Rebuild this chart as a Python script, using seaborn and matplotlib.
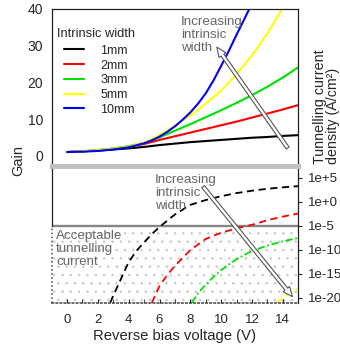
import numpy as np
import pandas as pd
import matplotlib
matplotlib.use('Agg')
import matplotlib.pyplot as plt
import seaborn as sns
from matplotlib.ticker import FixedLocator, NullLocator

# ---------------------------------------------
# datos
# ---------------------------------------------
widths = ['1mm', '2mm', '3mm', '5mm', '10mm']
colors = ['black', 'red', '#00e000', 'yellow', 'blue']

voltage = [0, 1, 2, 3, 4, 5, 6, 7, 8, 9, 10, 11, 12, 13, 14, 15]
gain_1mm = [1.0, 1.2, 1.4, 1.7, 2.0, 2.4, 2.9, 3.3, 3.7, 4.0, 4.3, 4.6, 4.9, 5.1, 5.4, 5.6]
gain_2mm = [1.0, 1.2, 1.5, 1.9, 2.4, 3.2, 4.3, 5.3, 6.3, 7.3, 8.3, 9.3, 10.4, 11.5, 12.6, 13.8]
gain_3mm = [1.0, 1.2, 1.5, 2.0, 2.6, 3.5, 5.0, 6.8, 8.6, 10.5, 12.4, 14.4, 16.5, 18.8, 21.3, 24.1]

# curvas mas empinadas: leidas cada 0.5 V
voltage_fine = [0, 1, 2, 3, 4, 5, 5.5, 6, 6.5, 7, 7.5, 8, 8.5, 9, 9.5, 10,
                10.5, 11, 11.5, 12, 12.5, 13, 13.5, 14]
gain_5mm = [1.0, 1.2, 1.5, 1.9, 2.5, 3.6, 4.5, 5.6, 6.8, 8.2, 9.6, 11.0, 12.5, 14.2,
            16.0, 17.8, 20.0, 22.3, 24.8, 27.4, 30.3, 33.4, 36.8, 40.5]
gain_10mm = [1.0, 1.1, 1.3, 1.7, 2.3, 3.4, 4.2, 5.2, 6.5, 8.0, 9.8, 11.8, 14.2, 17.0,
             20.5, 24.5, 28.6, 33.0, 37.2, 41.5]

# corriente tunel (exponente log10, A/cm2)
v_tun_1mm = [2.8, 3, 3.5, 4, 4.5, 5, 5.5, 6, 7, 8, 9, 10, 11, 12, 13, 14, 15]
log_tun_1mm = [-21, -19.5, -16, -12.5, -10.2, -8.4, -6.7, -5.2, -2.6, -0.6, 0.4, 1.2, 1.85, 2.35, 2.75, 3.05, 3.3]
v_tun_2mm = [5.5, 6, 6.5, 7, 8, 9, 10, 11, 12, 13, 14, 15]
log_tun_2mm = [-21, -17.5, -15.2, -13.3, -10.0, -7.7, -6.4, -5.5, -4.75, -3.8, -3.05, -2.4]
v_tun_3mm = [8.1, 8.5, 9, 9.5, 10, 11, 12, 13, 14, 15]
log_tun_3mm = [-21, -19, -17.2, -15.6, -14.2, -11.9, -10.2, -9.1, -8.2, -7.5]
v_tun_5mm = [13.6, 14, 14.5, 15]
log_tun_5mm = [-21, -20, -18.9, -18.0]

limit_tun = 1e-5
tun_ticks = [1e5, 1e0, 1e-5, 1e-10, 1e-15, 1e-20]
tun_labels = ['1e+5', '1e+0', '1e-5', '1e-10', '1e-15', '1e-20']

# ---------------------------------------------
# estilo
# ---------------------------------------------
sns.set_style('ticks')
plt.rcParams['font.family'] = ['Liberation Sans', 'DejaVu Sans']
plt.rcParams['hatch.color'] = '#cacaca'
plt.rcParams['hatch.linewidth'] = 0.6

fig = plt.figure(figsize=(3.4, 3.49), dpi=100)
ax_top = fig.add_axes([0.152, 0.5244, 0.725, 0.4499])
ax_bot = fig.add_axes([0.152, 0.1318, 0.725, 0.3926])

# ---------------------------------------------
# ganancia
# ---------------------------------------------
gains = [gain_1mm, gain_2mm, gain_3mm, gain_5mm, gain_10mm]
xs = [voltage, voltage, voltage, voltage_fine, voltage_fine]
gain_df = pd.concat([pd.DataFrame({'V': x[:len(g)], 'gain': g, 'width': w})
                     for w, x, g in zip(widths, xs, gains)])
sns.lineplot(data=gain_df, x='V', y='gain', hue='width', hue_order=widths,
             palette=dict(zip(widths, colors)), lw=1.5, ax=ax_top, legend=False)

ax_top.set_xlim(-1, 15)
ax_top.set_ylim(-2.8, 40)
ax_top.set_yticks([0, 10, 20, 30, 40])
ax_top.tick_params(axis='y', length=0, pad=6, labelsize=10)
ax_top.xaxis.set_major_locator(NullLocator())
ax_top.set_xlabel('')
ax_top.set_ylabel('')
for s in ['left', 'top', 'right']:
    ax_top.spines[s].set_color('#222222')
    ax_top.spines[s].set_linewidth(0.9)
ax_top.spines['bottom'].set_color('#c0c0c0')
ax_top.spines['bottom'].set_linewidth(3.5)

ax_top.legend(ax_top.lines[:5], widths, loc='upper left',
              bbox_to_anchor=(0.05, 0.772), frameon=False, fontsize=9,
              borderpad=0, borderaxespad=0, handlelength=1.6,
              handletextpad=1.3, labelspacing=0.22)
ax_top.text(0.022, 0.84, 'Intrinsic width', transform=ax_top.transAxes,
            fontsize=9.3, ha='left', va='center')

ax_top.text(7.39, 32.9, 'Increasing\nintrinsic\nwidth', color='#666666',
            fontsize=9.6, ha='left', va='center', linespacing=1.08)
ax_top.annotate('', xy=(9.72, 29.6), xytext=(14.32, 2.1),
                arrowprops=dict(arrowstyle='simple,head_length=0.7,head_width=0.6,tail_width=0.25',
                                fc='white', ec='#555555', lw=0.8,
                                shrinkA=0, shrinkB=0))

# ---------------------------------------------
# corriente tunel
# ---------------------------------------------
ax_bot.set_yscale('log')
ax_bot.axhspan(10**-21.05, limit_tun, facecolor='white', edgecolor='#cacaca',
               hatch='..', lw=0, zorder=0)
ax_bot.axhline(limit_tun, color='#858585', lw=1.7, zorder=1)

tun_sets = [(v_tun_1mm, log_tun_1mm, 'black', (0, (4, 2.5))),
            (v_tun_2mm, log_tun_2mm, 'red', (0, (4, 2.5))),
            (v_tun_3mm, log_tun_3mm, '#00e000', (0, (4, 1.5, 1, 1.5))),
            (v_tun_5mm, log_tun_5mm, 'yellow', (0, (4, 2.5)))]
for v, lg, c, ls in tun_sets:
    sns.lineplot(x=v, y=10.0 ** np.array(lg), color=c, lw=1.3, ax=ax_bot)
    ax_bot.lines[-1].set_linestyle(ls)

ax_bot.set_xlim(-1, 15)
ax_bot.set_ylim(10**-21.05, 10**7.5)
ax_bot.yaxis.tick_right()
ax_bot.yaxis.set_major_locator(FixedLocator(tun_ticks))
ax_bot.yaxis.set_minor_locator(NullLocator())
ax_bot.set_yticklabels(tun_labels)
ax_bot.tick_params(axis='y', direction='out', length=3, pad=4, labelsize=9.5)
ax_bot.set_xticks([0, 2, 4, 6, 8, 10, 12, 14])
ax_bot.xaxis.set_minor_locator(FixedLocator([1, 3, 5, 7, 9, 11, 13]))
ax_bot.tick_params(axis='x', which='both', direction='in', length=3, pad=8, labelsize=9.5)
ax_bot.set_xlabel('Reverse bias voltage (V)', fontsize=10.7, labelpad=2)
ax_bot.set_ylabel('')
for s in ['left', 'right']:
    ax_bot.spines[s].set_color('#222222')
    ax_bot.spines[s].set_linewidth(0.9)
ax_bot.spines['left'].set_bounds(limit_tun, 10**7.5)
ax_bot.plot([-1, -1], [10**-21.05, limit_tun], color='#444444', lw=1.1,
            ls=':', clip_on=False, zorder=3)
ax_bot.spines['bottom'].set_color('#444444')
ax_bot.spines['bottom'].set_linestyle(':')
ax_bot.spines['bottom'].set_linewidth(1.1)
ax_bot.spines['top'].set_color('#c0c0c0')
ax_bot.spines['top'].set_linewidth(3.5)

ax_bot.text(5.7, 10**1.875, 'Increasing\nintrinsic\nwidth', color='#666666',
            fontsize=9.6, ha='left', va='center', linespacing=1.08)
ax_bot.annotate('', xy=(14.63, 10**-19.73), xytext=(8.83, 10**3.19),
                arrowprops=dict(arrowstyle='simple,head_length=0.7,head_width=0.6,tail_width=0.25',
                                fc='white', ec='#555555', lw=0.8,
                                shrinkA=0, shrinkB=0))
ax_bot.text(-0.71, 10**-9.79, 'Acceptable\ntunnelling\ncurrent', color='#666666',
            fontsize=9.6, ha='left', va='center', linespacing=1.08)

fig.text(18 / 340, 1 - 161 / 349, 'Gain', rotation=90, fontsize=10.5,
         ha='center', va='center')
fig.text(326.5 / 340, 1 - 164 / 349, 'Tunnelling current\ndensity (A/cm²)',
         rotation=90, fontsize=10.3, ha='center', va='bottom',
         multialignment='left', linespacing=0.9)

fig.savefig('out.png', dpi=100)
